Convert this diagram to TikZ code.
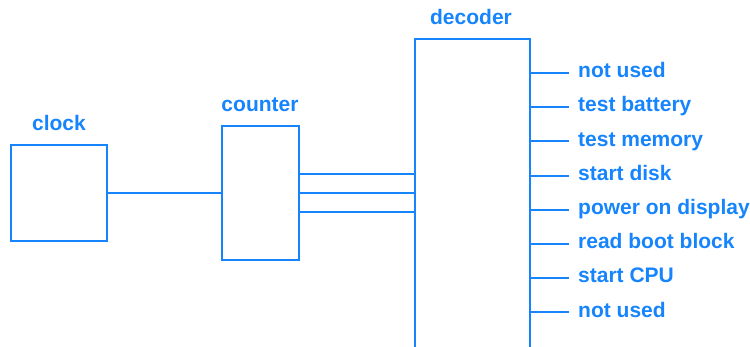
\documentclass[tikz,border=0pt]{standalone}
\usepackage{fontspec}
\setmainfont{Liberation Sans}
\definecolor{bl}{RGB}{22,132,252}
\begin{document}
\begin{tikzpicture}[x=1pt,y=-1pt,
  box/.style={draw=bl,line width=2pt,inner sep=0pt,outer sep=0pt},
  lbl/.style={text=bl,font=\fontsize{21}{25}\selectfont\bfseries,inner sep=0pt},
  wire/.style={draw=bl,line width=2pt}]
\useasboundingbox (0,0) rectangle (750,346);
\node[box,minimum width=96pt,minimum height=96pt] (clock) at (59,193) {};
\node[box,minimum width=77pt,minimum height=134pt] (counter) at (260.5,193) {};
\node[box,minimum width=115pt,minimum height=311pt] (decoder) at (472,194.5) {};
\node[lbl,anchor=base] (tclock) at (59,130) {clock};
\node[lbl,anchor=base] (tcounter) at (260,111) {counter};
\node[lbl,anchor=base] (tdecoder) at (471,24) {decoder};
\draw[wire] (clock.east) -- (counter.west);
\foreach \d in {-19.5,0,18.8}
  \draw[wire] (counter.east) ++(0,\d) coordinate (a) -- (a -| decoder.west);
\foreach \y/\t [count=\i] in {73/not used,107.2/test battery,141.4/test memory,175.6/start disk,209.8/power on display,244/read boot block,278.2/start CPU,312.4/not used}{
  \node[lbl,anchor=base west] (o\i) at (578,\y+4.6) {\t};
  \draw[wire,shorten >=9pt] (decoder.east |- 0,\y) -- (o\i.west |- 0,\y);
}
\end{tikzpicture}
\end{document}
